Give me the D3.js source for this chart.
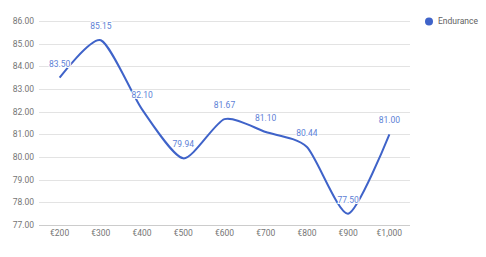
<!DOCTYPE html>
<html>
<head>
  <script src="https://d3js.org/d3.v7.min.js"></script>
  <style>
    body { margin: 0; background: #fff; }
    text { font-family: Roboto, "Liberation Sans", Arial, sans-serif; }
  </style>
</head>
<body>
  <svg id="chart"></svg>
  <script>
    // chart data
    const categories = ["€200", "€300", "€400", "€500", "€600", "€700", "€800", "€900", "€1,000"];
    const endurance = [83.50, 85.15, 82.10, 79.94, 81.67, 81.10, 80.44, 77.50, 81.00];
    const yTicks = [77, 78, 79, 80, 81, 82, 83, 84, 85, 86];
    const seriesName = "Endurance";

    const W = 486, H = 257;
    const margin = {top: 21, right: 76, bottom: 32, left: 39};

    const svg = d3.select("#chart")
      .attr("width", W)
      .attr("height", H);

    const x = d3.scalePoint()
      .domain(categories)
      .range([margin.left, W - margin.right])
      .padding(0.5);

    const y = d3.scaleLinear()
      .domain([77, 86])
      .range([H - margin.bottom, margin.top]);

    // gridlines
    svg.append("g")
      .selectAll("line")
      .data(yTicks)
      .join("line")
      .attr("x1", margin.left)
      .attr("x2", W - margin.right)
      .attr("y1", d => Math.round(y(d)) + 0.5)
      .attr("y2", d => Math.round(y(d)) + 0.5)
      .attr("stroke", d => d === 77 ? "#cccccc" : "#e3e3e3")
      .attr("stroke-width", 1);

    // y labels
    svg.append("g")
      .selectAll("text")
      .data(yTicks)
      .join("text")
      .attr("x", margin.left - 5)
      .attr("y", d => y(d))
      .attr("dy", "0.35em")
      .attr("text-anchor", "end")
      .style("font-size", "8.5px")
      .style("fill", "#757575")
      .text(d => d.toFixed(2));

    // x labels
    svg.append("g")
      .selectAll("text")
      .data(categories)
      .join("text")
      .attr("x", d => x(d))
      .attr("y", H - margin.bottom + 8)
      .attr("dy", "0.35em")
      .attr("text-anchor", "middle")
      .style("font-size", "8.5px")
      .style("fill", "#757575")
      .text(d => d);

    // line
    const line = d3.line()
      .x((d, i) => x(categories[i]))
      .y(d => y(d))
      .curve(d3.curveCardinal.tension(0.3));

    svg.append("path")
      .datum(endurance)
      .attr("d", line)
      .attr("fill", "none")
      .attr("stroke", "#3f63c9")
      .attr("stroke-width", 2);

    // value labels
    svg.append("g")
      .selectAll("text")
      .data(endurance)
      .join("text")
      .attr("x", (d, i) => x(categories[i]))
      .attr("y", d => y(d) - 14)
      .attr("dy", "0.35em")
      .attr("text-anchor", "middle")
      .style("font-size", "8.5px")
      .style("fill", "#5d7fd6")
      .style("paint-order", "stroke")
      .style("stroke", "#fff")
      .style("stroke-width", "2px")
      .text(d => d.toFixed(2));

    // legend
    const legend = svg.append("g")
      .attr("transform", "translate(429,21.5)");
    legend.append("circle")
      .attr("r", 4)
      .attr("fill", "#3f63c9");
    legend.append("text")
      .attr("x", 9)
      .attr("dy", "0.35em")
      .style("font-size", "8.5px")
      .style("fill", "#616161")
      .text(seriesName);
  </script>
</body>
</html>
